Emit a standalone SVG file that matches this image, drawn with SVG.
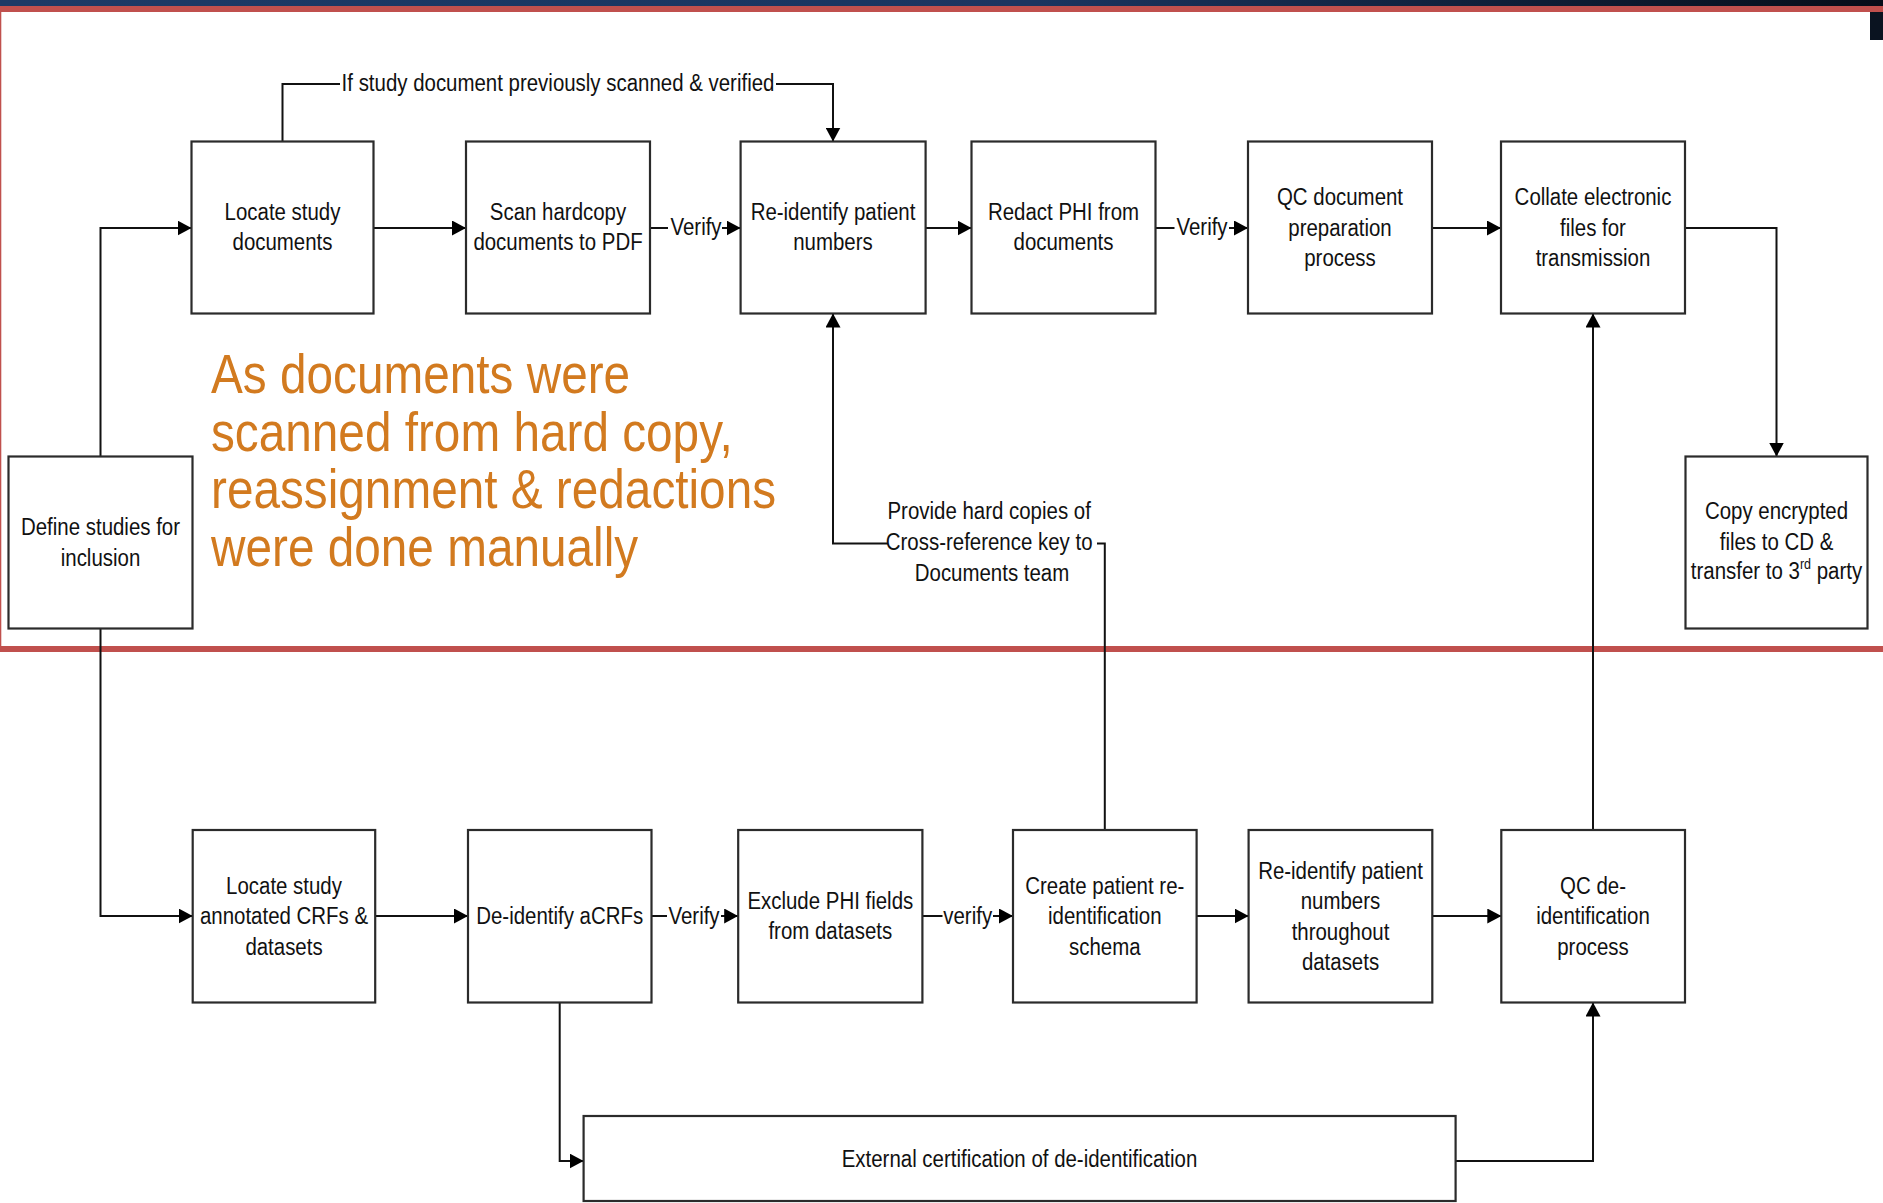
<svg xmlns="http://www.w3.org/2000/svg" width="1883" height="1203" viewBox="0 0 1883 1203">
  <style>
    .box { fill: #ffffff; stroke: #2b2b2b; stroke-width: 2.2; }
    .c { fill: none; stroke: #111111; stroke-width: 2; }
    .a { marker-end: url(#ah); }
    .n { font-family: "Liberation Sans", Arial, sans-serif; font-size: 24.5px; fill: #111111; text-anchor: middle; }
    .note { font-family: "Liberation Sans", Arial, sans-serif; font-size: 55px; fill: #d27a1f; }
  </style>
  <defs>
    <linearGradient id="band" x1="0" y1="0" x2="1" y2="0">
      <stop offset="0" stop-color="#1b3a66"/>
      <stop offset="0.55" stop-color="#1a3560"/>
      <stop offset="1" stop-color="#060d18"/>
    </linearGradient>
    <marker id="ah" viewBox="0 0 14 15" refX="14" refY="7.5" markerWidth="14" markerHeight="15" markerUnits="userSpaceOnUse" orient="auto">
      <path d="M0,0 L14,7.5 L0,15 Z" fill="#000000"/>
    </marker>
  </defs>

  <rect width="1883" height="1203" fill="#ffffff"/>

  <!-- title band and highlight frame -->
  <g id="frame">
    <rect x="0" y="0" width="1883" height="6" fill="url(#band)"/>
    <rect x="-1.7" y="9" width="1900" height="640" fill="none" stroke="#c0504d" stroke-width="6"/>
    <rect x="1870" y="12" width="13" height="28" fill="#0a1320"/>
  </g>

  <!-- connectors -->
  <g id="connectors">
    <path class="c a" d="M100.5,456.5 V228 H191.5"/>
    <path class="c a" d="M100.5,628.5 V916 H192.7"/>
    <path class="c a" d="M373.5,228 H466"/>
    <path class="c" d="M650,228 H668"/>
    <path class="c a" d="M722,228 H740.6"/>
    <path class="c a" d="M925.6,228 H971.5"/>
    <path class="c" d="M1155.5,228 H1174.5"/>
    <path class="c a" d="M1229,228 H1248"/>
    <path class="c a" d="M1432,228 H1501"/>
    <path class="c a" d="M1685,228 H1776.5 V456.5"/>
    <path class="c" d="M282.5,141.5 V84 H340"/>
    <path class="c a" d="M776,84 H833 V141.5"/>
    <path class="c" d="M1104.8,830 V543.5 H1097"/>
    <path class="c a" d="M888,543.5 H833 V313.5"/>
    <path class="c a" d="M1593,830 V313.5"/>
    <path class="c a" d="M375.2,916 H468"/>
    <path class="c" d="M651.5,916 H667"/>
    <path class="c a" d="M721,916 H738.2"/>
    <path class="c" d="M922.4,916 H942.5"/>
    <path class="c a" d="M993,916 H1013"/>
    <path class="c a" d="M1196.6,916 H1248.6"/>
    <path class="c a" d="M1432.3,916 H1501.3"/>
    <path class="c a" d="M559.7,1002.5 V1161 H583.6"/>
    <path class="c a" d="M1455.5,1161 H1593 V1002.5"/>

    <text class="n" transform="translate(558 0) scale(0.835 1)"><tspan x="0" y="91.5">If study document previously scanned &amp; verified</tspan></text>
    <text class="n" transform="translate(696 0) scale(0.835 1)"><tspan x="0" y="235.5">Verify</tspan></text>
    <text class="n" transform="translate(1202 0) scale(0.835 1)"><tspan x="0" y="235.5">Verify</tspan></text>
    <text class="n" transform="translate(694 0) scale(0.835 1)"><tspan x="0" y="924.5">Verify</tspan></text>
    <text class="n" transform="translate(967.7 0) scale(0.835 1)"><tspan x="0" y="924.5">verify</tspan></text>
    <text class="n" transform="translate(992 0) scale(0.835 1)">
      <tspan x="0" y="519.5">Provide hard copies of</tspan>
      <tspan x="0" y="550.5">Cross-reference key to</tspan>
      <tspan x="0" y="581">Documents team</tspan>
    </text>
  </g>

  <!-- top row: document handling -->
  <g id="locate-docs">
    <rect class="box" x="191.5" y="141.5" width="182" height="172"/>
    <text class="n" transform="translate(282.5 0) scale(0.835 1)"><tspan x="0" y="220">Locate study</tspan><tspan x="0" y="250.5">documents</tspan></text>
  </g>
  <g id="scan-docs">
    <rect class="box" x="466" y="141.5" width="184" height="172"/>
    <text class="n" transform="translate(558 0) scale(0.835 1)"><tspan x="0" y="220">Scan hardcopy</tspan><tspan x="0" y="250.5">documents to PDF</tspan></text>
  </g>
  <g id="reidentify-docs">
    <rect class="box" x="740.6" y="141.5" width="185" height="172"/>
    <text class="n" transform="translate(833 0) scale(0.835 1)"><tspan x="0" y="220">Re-identify patient</tspan><tspan x="0" y="250.5">numbers</tspan></text>
  </g>
  <g id="redact-phi">
    <rect class="box" x="971.5" y="141.5" width="184" height="172"/>
    <text class="n" transform="translate(1063.5 0) scale(0.835 1)"><tspan x="0" y="220">Redact PHI from</tspan><tspan x="0" y="250.5">documents</tspan></text>
  </g>
  <g id="qc-docs">
    <rect class="box" x="1248" y="141.5" width="184" height="172"/>
    <text class="n" transform="translate(1340 0) scale(0.835 1)"><tspan x="0" y="205.5">QC document</tspan><tspan x="0" y="236">preparation</tspan><tspan x="0" y="266.5">process</tspan></text>
  </g>
  <g id="collate-files">
    <rect class="box" x="1501" y="141.5" width="184" height="172"/>
    <text class="n" transform="translate(1593 0) scale(0.835 1)"><tspan x="0" y="205.5">Collate electronic</tspan><tspan x="0" y="236">files for</tspan><tspan x="0" y="266.5">transmission</tspan></text>
  </g>
  <g id="copy-files">
    <rect class="box" x="1685.5" y="456.5" width="182" height="172"/>
    <text class="n" transform="translate(1776.5 0) scale(0.835 1)"><tspan x="0" y="519.5">Copy encrypted</tspan><tspan x="0" y="550">files to CD &amp;</tspan><tspan x="0" y="579">transfer to 3<tspan font-size="15" dy="-10">rd</tspan><tspan dy="10"> party</tspan></tspan></text>
  </g>
  <g id="define-studies">
    <rect class="box" x="8.5" y="456.5" width="184" height="172"/>
    <text class="n" transform="translate(100.5 0) scale(0.835 1)"><tspan x="0" y="535.5">Define studies for</tspan><tspan x="0" y="566">inclusion</tspan></text>
  </g>

  <!-- bottom row: dataset handling -->
  <g id="locate-crfs">
    <rect class="box" x="192.7" y="830" width="182.5" height="172.5"/>
    <text class="n" transform="translate(284 0) scale(0.835 1)"><tspan x="0" y="894">Locate study</tspan><tspan x="0" y="924.5">annotated CRFs &amp;</tspan><tspan x="0" y="955">datasets</tspan></text>
  </g>
  <g id="deidentify-acrfs">
    <rect class="box" x="468" y="830" width="183.5" height="172.5"/>
    <text class="n" transform="translate(559.7 0) scale(0.835 1)"><tspan x="0" y="924.5">De-identify aCRFs</tspan></text>
  </g>
  <g id="exclude-phi">
    <rect class="box" x="738.2" y="830" width="184.2" height="172.5"/>
    <text class="n" transform="translate(830.3 0) scale(0.835 1)"><tspan x="0" y="909">Exclude PHI fields</tspan><tspan x="0" y="939.5">from datasets</tspan></text>
  </g>
  <g id="create-schema">
    <rect class="box" x="1013" y="830" width="183.6" height="172.5"/>
    <text class="n" transform="translate(1104.8 0) scale(0.835 1)"><tspan x="0" y="894">Create patient re-</tspan><tspan x="0" y="924.5">identification</tspan><tspan x="0" y="955">schema</tspan></text>
  </g>
  <g id="reidentify-datasets">
    <rect class="box" x="1248.6" y="830" width="183.7" height="172.5"/>
    <text class="n" transform="translate(1340.5 0) scale(0.835 1)"><tspan x="0" y="879">Re-identify patient</tspan><tspan x="0" y="909.5">numbers</tspan><tspan x="0" y="940">throughout</tspan><tspan x="0" y="970.5">datasets</tspan></text>
  </g>
  <g id="qc-deidentification">
    <rect class="box" x="1501.3" y="830" width="183.7" height="172.5"/>
    <text class="n" transform="translate(1593 0) scale(0.835 1)"><tspan x="0" y="894">QC de-</tspan><tspan x="0" y="924.5">identification</tspan><tspan x="0" y="955">process</tspan></text>
  </g>
  <g id="external-cert">
    <rect class="box" x="583.6" y="1116" width="872" height="85"/>
    <text class="n" transform="translate(1019.5 0) scale(0.835 1)"><tspan x="0" y="1167">External certification of de-identification</tspan></text>
  </g>

  <!-- annotation -->
  <g id="note">
    <text class="note" transform="translate(211 0) scale(0.868 1)">
      <tspan x="0" y="393">As documents were</tspan>
      <tspan x="0" y="450.7">scanned from hard copy,</tspan>
      <tspan x="0" y="508.4">reassignment &amp; redactions</tspan>
      <tspan x="0" y="566">were done manually</tspan>
    </text>
  </g>
</svg>
